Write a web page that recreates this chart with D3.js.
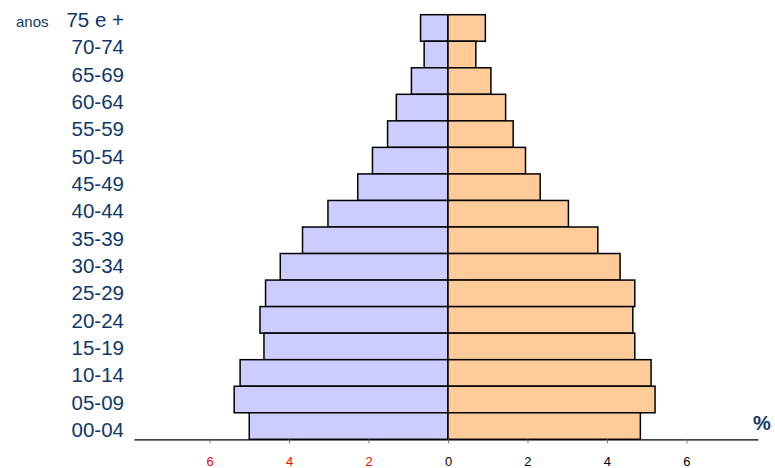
<!DOCTYPE html>
<html lang="pt">

<head>
  <title>Pirâmide etária</title>
  <meta charset="UTF-8">
  <script src='https://cdn.jsdelivr.net/npm/d3@7/dist/d3.min.js'></script>
  <style>
    body { margin: 0; background: #fff; }
    svg { font-family: 'Liberation Sans', Arial, sans-serif; }
  </style>
</head>

<body>
  <div id='box'></div>
  <script>
    // dados
    const width = 775
    const height = 468

    const ageGroups = ['75 e +', '70-74', '65-69', '60-64', '55-59', '50-54', '45-49', '40-44',
      '35-39', '30-34', '25-29', '20-24', '15-19', '10-14', '05-09', '00-04']
    const male = [0.69, 0.60, 0.92, 1.30, 1.52, 1.90, 2.27, 3.02, 3.66, 4.22, 4.59, 4.73, 4.63, 5.23, 5.38, 5.00]
    const female = [0.94, 0.70, 1.08, 1.45, 1.64, 1.95, 2.32, 3.03, 3.77, 4.33, 4.70, 4.65, 4.70, 5.11, 5.21, 4.84]
    const xTicks = [-6, -4, -2, 0, 2, 4, 6]

    const navy = '#10386b'

    const svg = d3.select('#box').append('svg')
      .attr('width', width)
      .attr('height', height)

    // escalas
    const x = d3.scaleLinear().domain([-7.9, 7.8]).range([134, 758])
    const y = d3.scaleBand().domain(ageGroups).range([14.7, 439.3])
    const yLabel = d3.scalePoint().domain(ageGroups).range([19.5, 429.7])

    // barras - homens (esquerda)
    svg.append('g').selectAll('rect')
      .data(ageGroups)
      .join('rect')
      .attr('x', (d, i) => x(-male[i]))
      .attr('y', d => y(d))
      .attr('width', (d, i) => x(0) - x(-male[i]))
      .attr('height', y.bandwidth())
      .attr('fill', '#ccccff')
      .attr('stroke', '#000')
      .attr('stroke-width', 1.5)

    // barras - mulheres (direita)
    svg.append('g').selectAll('rect')
      .data(ageGroups)
      .join('rect')
      .attr('x', x(0))
      .attr('y', d => y(d))
      .attr('width', (d, i) => x(female[i]) - x(0))
      .attr('height', y.bandwidth())
      .attr('fill', '#ffcc99')
      .attr('stroke', '#000')
      .attr('stroke-width', 1.5)

    // eixo x
    const xAxis = d3.axisBottom(x)
      .tickValues(xTicks)
      .tickSizeInner(4)
      .tickSizeOuter(0)
      .tickPadding(13)
      .tickFormat(d => Math.abs(d))
    const gx = svg.append('g')
      .attr('transform', `translate(0,${y.range()[1]})`)
      .call(xAxis)
      .attr('font-size', 13)
      .attr('font-family', null)
    gx.select('.domain').attr('stroke', '#000').attr('stroke-width', 1.2)
    gx.selectAll('.tick line').attr('stroke', '#777')
    gx.selectAll('.tick text').attr('fill', d => d < 0 ? '#ff0000' : '#000')

    // rótulos das faixas etárias
    svg.append('g').selectAll('text')
      .data(ageGroups)
      .join('text')
      .attr('x', 124)
      .attr('y', d => yLabel(d))
      .attr('dy', '0.36em')
      .attr('text-anchor', 'end')
      .attr('font-size', 20.5)
      .attr('fill', navy)
      .text(d => d)

    svg.append('text')
      .attr('x', 16)
      .attr('y', 27)
      .attr('font-size', 15)
      .attr('fill', navy)
      .text('anos')

    svg.append('text')
      .attr('x', 753)
      .attr('y', 430)
      .attr('font-size', 20)
      .attr('font-weight', 'bold')
      .attr('fill', navy)
      .text('%')
  </script>
</body>

</html>
